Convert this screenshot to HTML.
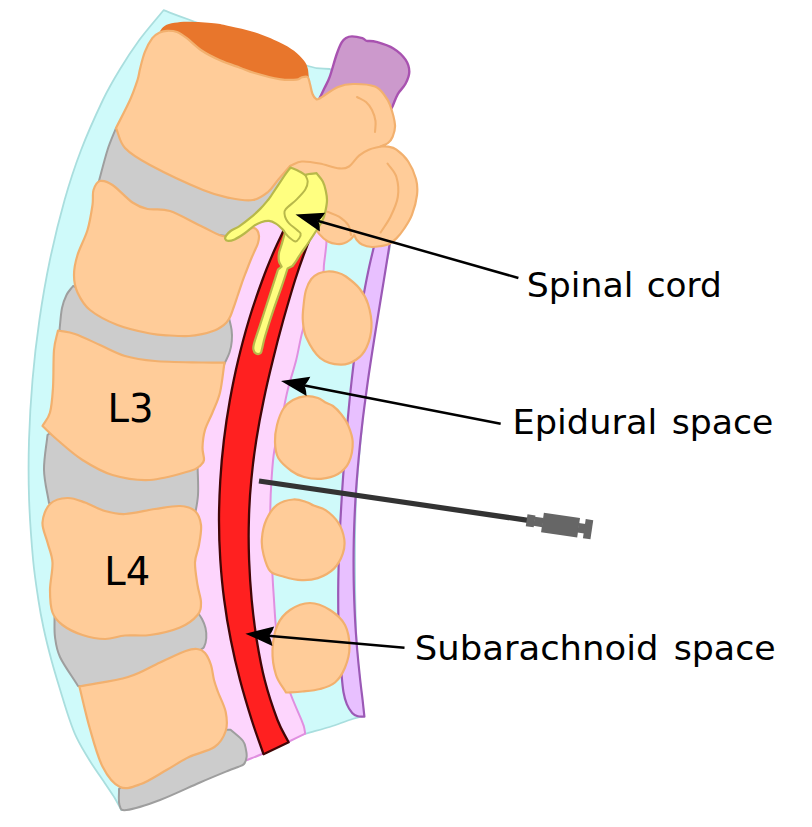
<!DOCTYPE html>
<html lang="en">
<head>
<meta charset="utf-8">
<title>Lumbar puncture diagram</title>
<style>
html,body{margin:0;padding:0;background:#fff;}
svg{display:block;}
</style>
</head>
<body>
<svg width="812" height="827" viewBox="0 0 812 827">
<rect width="812" height="827" fill="#fff"/>
<path d="M163.6,10.2C155.5,20.1 146.7,30.0 139.3,40.0C132.0,50.0 125.5,60.0 119.5,70.0C113.4,80.0 109.3,86.7 102.9,100.0C96.6,113.3 87.5,133.3 81.1,150.0C74.7,166.7 69.8,181.7 64.6,200.0C59.4,218.3 54.1,240.0 49.9,260.0C45.7,280.0 42.3,300.0 39.4,320.0C36.5,340.0 34.2,360.0 32.5,380.0C30.8,400.0 29.6,420.0 29.0,440.0C28.4,460.0 28.4,480.0 29.1,500.0C29.8,520.0 31.6,543.3 33.1,560.0C34.7,576.7 36.7,588.7 38.4,600.0C40.1,611.3 41.3,617.5 43.5,627.7C45.7,638.0 48.9,650.8 51.8,661.5C54.7,672.2 58.1,683.1 60.8,692.0C63.5,700.9 65.4,707.5 68.0,715.0C70.6,722.5 72.8,729.6 76.4,737.2C80.0,744.8 84.9,752.9 89.8,760.8C94.7,768.6 101.4,778.0 105.6,784.3C109.8,790.6 112.4,794.2 115.0,798.5C117.6,802.8 119.2,806.2 121.3,810.0C124.2,803.3 127.1,796.7 130.0,790.0C166.7,776.7 203.3,763.3 240.0,750.0C261.7,744.7 283.3,739.3 305.0,734.0C314.2,731.3 324.6,728.5 332.5,726.0C340.4,723.5 347.2,720.7 352.5,719.0C357.8,717.3 360.2,717.0 364.0,716.0C361.7,694.0 358.5,673.5 357.0,650.0C355.5,626.5 355.2,600.0 355.0,575.0C354.8,550.0 355.0,523.0 356.0,500.0C357.0,477.0 358.7,461.2 361.0,437.0C363.3,412.8 366.0,382.8 370.0,355.0C374.0,327.2 381.7,288.8 385.0,270.0C388.3,251.2 390.0,253.7 390.0,242.0C390.0,230.3 387.0,215.3 385.0,200.0C383.0,184.7 383.8,168.3 378.0,150.0C372.2,131.7 358.0,103.5 350.0,90.0C342.0,76.5 336.7,76.0 330.0,69.0C322.7,68.0 319.7,70.0 308.0,66.0C296.3,62.0 279.7,52.7 260.0,45.0C240.3,37.3 206.1,25.8 190.0,20.0C173.9,14.2 172.4,13.5 163.6,10.2Z" fill="#cffafa" stroke="#a9dede" stroke-width="1.8" stroke-linejoin="round" stroke-linecap="round"/>
<path d="M159.7,31.5C161.3,29.6 162.1,27.3 164.6,25.9C167.1,24.4 170.4,23.5 174.5,22.8C178.6,22.1 182.7,21.6 189.3,21.7C195.9,21.8 207.1,22.4 213.9,23.2C220.7,23.9 223.2,24.7 230.0,26.2C236.8,27.7 246.4,29.6 254.6,32.3C262.8,35.0 272.7,39.1 279.3,42.2C285.9,45.3 289.9,47.7 294.0,50.8C298.1,53.9 301.6,57.7 303.9,60.6C306.2,63.5 306.8,65.3 307.6,68.0C308.4,70.7 308.4,74.0 308.8,77.0C304.2,79.7 299.6,82.3 295.0,85.0C281.0,83.3 268.3,84.5 253.0,80.0C237.7,75.5 215.2,64.3 203.0,58.0C190.8,51.7 187.2,46.4 180.0,42.0C172.8,37.6 166.5,35.0 159.7,31.5Z" fill="#e8762c"/>
<path d="M319.3,98.8C321.0,95.2 322.8,91.7 324.5,88.0C326.2,84.3 327.7,82.5 329.7,76.9C331.7,71.3 334.6,60.2 336.6,54.5C338.6,48.8 340.1,45.1 341.7,42.4C343.3,39.6 344.3,39.0 346.0,38.0C347.7,37.0 349.3,36.4 352.0,36.4C354.7,36.4 359.9,37.4 362.4,38.1C364.8,38.8 364.4,40.2 366.7,40.8C369.0,41.4 371.8,40.5 376.2,41.8C380.6,43.1 388.5,45.4 393.4,48.4C398.3,51.4 402.9,55.8 405.5,59.7C408.1,63.6 409.3,67.7 409.3,71.7C409.3,75.7 407.4,80.1 405.5,83.8C403.6,87.5 399.9,90.4 397.8,94.1C395.7,97.8 394.3,102.2 392.6,106.2C388.4,114.1 384.2,122.1 380.0,130.0C366.7,126.7 353.3,123.3 340.0,120.0C333.1,112.9 326.2,105.9 319.3,98.8Z" fill="#cc99cc" stroke="#a852b0" stroke-width="2.4" stroke-linejoin="round" stroke-linecap="round"/>
<path d="M375.5,240.0C373.2,250.0 370.6,260.0 368.5,270.0C366.4,280.0 364.7,288.3 362.8,300.0C360.8,311.7 358.4,326.7 356.6,340.0C354.8,353.3 353.2,366.7 351.7,380.0C350.2,393.3 348.9,406.7 347.7,420.0C346.5,433.3 345.4,446.7 344.4,460.0C343.3,473.3 342.4,486.7 341.6,500.0C340.8,513.3 340.0,526.7 339.5,540.0C338.9,553.3 338.5,566.7 338.3,580.0C338.1,593.3 338.2,608.3 338.4,620.0C338.6,631.7 339.1,640.8 339.6,650.0C340.1,659.2 340.9,668.0 341.6,675.0C342.2,682.0 342.6,687.3 343.5,692.2C344.4,697.1 345.4,700.8 346.8,704.2C348.2,707.7 350.4,710.9 352.2,712.9C354.0,714.9 355.7,715.6 357.7,716.2C359.7,716.8 362.2,716.5 364.4,716.6C363.8,711.1 363.3,706.1 362.6,700.0C361.9,693.9 361.1,688.3 360.2,680.0C359.3,671.7 358.1,660.0 357.2,650.0C356.4,640.0 355.7,631.7 355.1,620.0C354.5,608.3 353.9,593.3 353.7,580.0C353.5,566.7 353.5,553.3 353.8,540.0C354.1,526.7 354.7,513.3 355.4,500.0C356.2,486.7 357.3,473.3 358.5,460.0C359.7,446.7 361.1,433.3 362.7,420.0C364.3,406.7 366.2,393.3 368.0,380.0C369.9,366.7 372.0,353.3 374.1,340.0C376.2,326.7 378.7,311.7 380.6,300.0C382.5,288.3 383.9,280.0 385.5,270.0C387.1,260.0 388.7,250.0 390.3,240.0C385.4,240.0 380.4,240.0 375.5,240.0Z" fill="#e8c0ff" stroke="#9b59b6" stroke-width="2.2" stroke-linejoin="round" stroke-linecap="round"/>
<path d="M322.0,215.0C323.2,220.7 324.8,227.3 325.5,232.0C326.2,236.7 326.6,237.9 326.4,243.3C326.1,248.7 324.6,259.0 324.0,264.3C323.4,269.6 324.5,269.1 322.7,275.0C320.9,280.9 316.3,290.8 313.0,300.0C309.7,309.2 305.6,320.0 302.8,330.0C300.0,340.0 298.7,350.0 296.2,360.0C293.7,370.0 290.1,380.0 287.7,390.0C285.2,400.0 283.7,410.0 281.5,420.0C279.3,430.0 276.1,440.0 274.4,450.0C272.7,460.0 272.2,470.0 271.5,480.0C270.8,490.0 270.4,500.0 270.3,510.0C270.2,520.0 270.7,530.0 271.0,540.0C271.3,550.0 271.7,560.0 272.2,570.0C272.7,580.0 273.3,590.0 274.0,600.0C274.7,610.0 275.0,620.0 276.3,630.0C277.6,640.0 279.9,650.0 282.0,660.0C284.1,670.0 285.9,680.0 289.2,690.0C292.4,700.0 299.0,713.8 301.5,720.0C304.0,726.2 303.4,724.7 304.0,727.0C304.6,729.3 304.8,731.5 305.2,733.7C299.5,736.5 295.2,738.6 288.0,742.0C280.8,745.4 268.8,751.0 262.0,754.0C255.2,757.0 252.1,758.0 247.1,760.0C231.4,753.3 215.7,746.7 200.0,740.0C183.3,693.3 166.7,646.7 150.0,600.0C150.0,556.7 150.0,513.3 150.0,470.0C160.0,423.3 170.0,376.7 180.0,330.0C203.3,301.7 226.7,273.3 250.0,245.0C250.0,235.0 250.0,225.0 250.0,215.0C258.3,210.0 266.7,205.0 275.0,200.0C290.7,205.0 306.3,210.0 322.0,215.0Z" fill="#fdd5fd" stroke="#e08fe0" stroke-width="2" stroke-linejoin="round" stroke-linecap="round"/>
<path d="M283.8,230.0C280.7,236.7 278.1,241.7 274.5,250.0C270.9,258.3 266.6,268.3 262.4,280.0C258.1,291.7 252.9,306.7 248.9,320.0C244.9,333.3 241.4,346.7 238.2,360.0C235.0,373.3 232.3,386.7 229.9,400.0C227.5,413.3 225.5,426.7 223.9,440.0C222.3,453.3 221.1,466.7 220.3,480.0C219.5,493.3 219.0,506.7 219.0,520.0C219.0,533.3 219.4,546.7 220.3,560.0C221.2,573.3 222.4,586.7 224.2,600.0C225.9,613.3 228.1,626.7 230.8,640.0C233.4,653.3 236.5,666.7 240.0,680.0C243.5,693.3 247.8,707.6 251.7,720.0C255.6,732.4 259.6,742.8 263.5,754.2C271.9,750.2 280.2,746.3 288.6,742.3C284.9,734.9 281.5,730.4 277.5,720.0C273.6,709.6 268.1,693.3 264.7,680.0C261.2,666.7 258.9,653.3 256.7,640.0C254.6,626.7 253.0,613.3 251.7,600.0C250.5,586.7 249.6,573.3 249.1,560.0C248.6,546.7 248.5,533.3 248.9,520.0C249.2,506.7 250.0,493.3 251.3,480.0C252.5,466.7 254.2,453.3 256.3,440.0C258.4,426.7 260.9,413.3 263.7,400.0C266.4,386.7 269.6,373.3 272.9,360.0C276.1,346.7 279.6,333.3 283.3,320.0C287.1,306.7 291.4,291.7 295.1,280.0C298.8,268.3 302.7,257.5 305.5,250.0C308.2,242.5 309.5,240.0 311.5,235.0C302.2,233.3 293.0,231.7 283.8,230.0Z" fill="#ff2020" stroke="#420606" stroke-width="2.3" stroke-linejoin="round" stroke-linecap="round"/>
<path d="M327.5,271.5C330.6,271.3 333.9,271.7 337.0,272.5C340.1,273.3 342.1,273.8 345.9,276.5C349.6,279.2 355.8,283.9 359.5,288.5C363.2,293.1 366.0,297.6 368.0,304.0C370.0,310.4 371.8,319.6 371.5,326.8C371.2,334.1 369.0,342.1 366.5,347.5C364.0,352.9 360.7,356.6 356.4,359.5C352.1,362.4 346.7,365.0 340.6,364.7C334.5,364.4 325.7,362.4 320.0,357.8C314.3,353.2 309.1,343.6 306.2,337.3C303.3,331.0 303.2,325.4 302.8,320.0C302.4,314.6 303.1,310.0 303.6,305.0C304.1,300.0 304.7,294.3 306.0,290.0C307.3,285.7 309.2,281.8 311.3,279.0C313.4,276.2 315.8,274.8 318.5,273.5C321.2,272.2 324.4,271.7 327.5,271.5Z" fill="#ffcc99" stroke="#f2b06e" stroke-width="2.2" stroke-linejoin="round" stroke-linecap="round"/>
<path d="M283.5,408.5C286.2,404.3 289.2,402.1 293.0,400.0C296.8,397.9 301.8,396.5 306.0,396.2C310.2,395.9 314.8,396.9 318.0,398.0C321.2,399.1 323.0,401.2 325.5,402.5C328.0,403.8 330.4,404.1 333.0,406.0C335.6,407.9 338.5,410.8 341.0,414.0C343.5,417.2 346.1,420.4 348.0,425.0C349.9,429.6 352.5,435.7 352.7,441.9C352.9,448.1 351.4,456.6 349.0,462.0C346.6,467.4 342.7,471.2 338.0,474.0C333.3,476.8 326.7,478.3 321.0,478.8C315.3,479.3 308.9,478.3 304.0,477.0C299.1,475.7 295.8,474.2 291.5,471.0C287.2,467.8 281.1,462.8 278.3,458.0C275.6,453.2 275.2,447.5 275.0,442.0C274.8,436.5 275.6,430.6 277.0,425.0C278.4,419.4 280.8,412.7 283.5,408.5Z" fill="#ffcc99" stroke="#f2b06e" stroke-width="2.2" stroke-linejoin="round" stroke-linecap="round"/>
<path d="M293.4,499.5C298.4,499.1 303.5,501.2 306.9,502.2C310.3,503.2 310.5,504.2 313.7,505.6C316.9,507.0 321.8,507.5 325.9,510.3C330.0,513.1 335.1,517.8 338.1,522.5C341.2,527.2 343.4,533.6 344.2,538.8C345.0,544.0 344.5,548.7 342.8,553.7C341.1,558.7 338.2,564.5 334.0,568.6C329.8,572.7 323.2,576.2 317.8,578.1C312.4,580.0 307.1,580.3 301.5,580.1C295.9,579.9 289.1,578.2 283.9,576.7C278.7,575.2 273.7,574.9 270.3,571.3C266.9,567.7 265.0,560.4 263.6,555.0C262.2,549.6 261.4,544.7 261.9,538.8C262.3,532.9 263.8,525.4 266.3,519.8C268.8,514.1 272.6,508.3 277.1,504.9C281.6,501.5 288.4,499.9 293.4,499.5Z" fill="#ffcc99" stroke="#f2b06e" stroke-width="2.2" stroke-linejoin="round" stroke-linecap="round"/>
<path d="M310.0,603.0C316.7,603.0 324.2,606.3 330.0,610.0C335.8,613.7 341.8,618.8 345.0,625.0C348.2,631.2 349.5,640.4 349.5,647.5C349.5,654.6 347.4,661.7 345.0,667.5C342.6,673.3 339.2,678.9 335.0,682.5C330.8,686.1 325.4,687.5 320.0,689.0C314.6,690.5 308.2,690.9 302.5,691.5C296.8,692.1 291.5,692.2 286.0,692.5C282.7,686.7 278.2,682.1 276.0,675.0C273.8,667.9 272.2,658.3 272.5,650.0C272.8,641.7 274.6,631.7 277.5,625.0C280.4,618.3 284.6,613.7 290.0,610.0C295.4,606.3 303.3,603.0 310.0,603.0Z" fill="#ffcc99" stroke="#f2b06e" stroke-width="2.2" stroke-linejoin="round" stroke-linecap="round"/>
<path d="M116.0,128.0C113.2,135.3 110.3,141.2 107.5,150.0C104.7,158.8 101.8,170.7 99.0,181.0C116.0,195.7 133.0,210.3 150.0,225.0C175.3,228.7 200.7,232.3 226.0,236.0C238.0,228.3 250.0,220.7 262.0,213.0C269.7,206.3 277.3,199.7 285.0,193.0C287.3,184.7 289.7,176.3 292.0,168.0C279.0,173.7 266.0,179.3 253.0,185.0C218.7,173.3 184.3,161.7 150.0,150.0C138.7,142.7 127.3,135.3 116.0,128.0Z" fill="#cccccc" stroke="#9e9e9e" stroke-width="2" stroke-linejoin="round" stroke-linecap="round"/>
<path d="M73.0,286.0C70.8,289.0 68.3,291.3 66.5,295.0C64.7,298.7 63.2,302.2 62.0,308.0C60.8,313.8 60.3,322.7 59.5,330.0C79.7,343.3 99.8,356.7 120.0,370.0C154.0,370.7 188.0,371.3 222.0,372.0C222.8,369.2 223.7,366.3 224.5,363.5C226.2,359.8 228.3,356.2 229.5,352.5C230.7,348.8 231.5,344.8 231.8,341.0C232.2,337.2 232.1,333.8 231.6,330.0C231.1,326.2 229.9,322.0 229.0,318.0C202.7,317.0 176.3,316.0 150.0,315.0C124.3,305.3 98.7,295.7 73.0,286.0Z" fill="#cccccc" stroke="#9e9e9e" stroke-width="2" stroke-linejoin="round" stroke-linecap="round"/>
<path d="M47.5,435.0C46.3,446.7 43.8,458.7 44.0,470.0C44.2,481.3 47.3,492.0 49.0,503.0C72.7,512.0 96.3,521.0 120.0,530.0C144.7,526.7 169.3,523.3 194.0,520.0C195.3,511.7 197.4,504.3 198.0,495.0C198.6,485.7 197.7,474.3 197.5,464.0C171.7,461.0 145.8,458.0 120.0,455.0C100.0,445.0 80.0,435.0 60.0,425.0C55.8,428.3 51.7,431.7 47.5,435.0Z" fill="#cccccc" stroke="#9e9e9e" stroke-width="2" stroke-linejoin="round" stroke-linecap="round"/>
<path d="M54.5,617.0C54.7,623.7 54.1,630.3 55.0,637.0C55.9,643.7 56.2,648.8 60.0,657.0C63.8,665.2 72.0,676.3 78.0,686.0C102.0,690.7 126.0,695.3 150.0,700.0C165.3,688.3 180.7,676.7 196.0,665.0C197.3,660.3 198.7,654.0 200.0,651.0C201.3,648.0 202.9,649.2 204.0,647.0C205.1,644.8 206.1,641.2 206.3,638.0C206.6,634.8 206.2,631.2 205.5,628.0C204.8,624.8 203.6,622.0 202.0,619.0C200.4,616.0 198.0,613.0 196.0,610.0C170.7,610.7 145.3,611.3 120.0,612.0C98.2,613.7 76.3,615.3 54.5,617.0Z" fill="#cccccc" stroke="#9e9e9e" stroke-width="2" stroke-linejoin="round" stroke-linecap="round"/>
<path d="M119.0,789.0C119.2,794.3 118.2,801.5 119.5,805.0C120.8,808.5 119.8,810.8 126.5,810.0C133.2,809.2 147.8,804.6 160.0,800.0C172.2,795.4 188.8,787.3 200.0,782.5C211.2,777.7 221.2,773.6 227.5,771.0C233.8,768.4 235.2,768.2 238.0,767.0C240.8,765.8 242.6,765.7 244.0,764.0C245.4,762.3 246.3,759.3 246.6,757.0C246.9,754.7 246.6,752.7 246.0,750.0C245.4,747.3 245.6,744.4 243.0,741.0C240.4,737.6 234.7,733.5 230.5,729.7C220.3,729.8 210.2,729.9 200.0,730.0C180.0,743.3 160.0,756.7 140.0,770.0C133.0,776.3 126.0,782.7 119.0,789.0Z" fill="#cccccc" stroke="#9e9e9e" stroke-width="2" stroke-linejoin="round" stroke-linecap="round"/>
<path d="M159.7,32.6C162.1,31.4 164.1,30.9 167.0,30.8C169.9,30.7 173.7,30.8 177.0,32.0C180.3,33.2 182.7,35.1 186.8,38.2C190.9,41.3 196.1,46.8 201.6,50.5C207.1,54.2 213.6,57.4 220.0,60.3C226.4,63.2 234.2,65.6 240.0,67.7C245.8,69.8 248.0,71.1 254.6,73.0C261.1,74.9 272.3,78.0 279.3,79.1C286.3,80.2 292.8,80.0 296.5,79.7C300.2,79.4 299.5,78.0 301.4,77.5C303.2,77.0 306.2,75.9 307.6,77.0C309.0,78.1 309.2,81.2 310.0,84.0C310.8,86.8 311.5,91.5 312.5,94.0C313.5,96.5 314.8,98.0 316.0,98.8C317.2,99.5 315.8,100.5 319.5,98.5C323.2,96.5 332.4,89.4 338.0,87.0C343.6,84.6 346.8,84.1 353.0,84.0C359.2,83.9 369.7,84.5 375.0,86.5C380.3,88.5 382.5,92.9 385.0,96.0C387.5,99.1 388.3,100.2 390.0,105.0C391.7,109.8 394.6,119.7 395.0,125.0C395.4,130.3 393.7,134.0 392.5,137.0C391.3,140.0 390.0,141.4 388.0,143.0C386.0,144.6 383.1,145.3 380.6,146.5C383.1,146.6 385.4,146.2 388.0,146.7C390.6,147.2 393.0,147.2 396.4,149.7C399.8,152.2 404.9,156.6 408.2,161.5C411.5,166.4 414.5,173.4 416.0,179.0C417.5,184.6 417.7,189.1 417.0,195.0C416.3,200.9 414.1,209.1 412.0,214.7C409.9,220.3 406.9,224.6 404.3,228.5C401.7,232.4 399.0,235.8 396.4,238.4C393.8,241.0 390.9,243.1 388.5,244.3C386.1,245.5 384.8,245.4 382.0,245.8C379.2,246.2 375.3,247.2 372.0,247.0C368.7,246.8 364.5,245.7 362.0,244.5C359.5,243.3 358.1,241.6 356.8,240.0C355.5,238.4 355.1,236.7 354.3,235.0C353.0,236.5 352.2,238.1 350.5,239.5C348.8,240.9 346.2,242.6 344.0,243.3C341.8,244.1 339.7,244.3 337.0,244.0C334.3,243.7 330.9,243.1 328.0,241.5C325.1,239.9 322.3,237.7 319.6,234.4C316.9,231.2 314.5,226.1 312.0,222.0C308.0,214.7 304.0,207.3 300.0,200.0C296.7,188.7 293.3,177.3 290.0,166.0C286.0,170.7 281.7,175.7 278.0,180.0C274.3,184.3 272.2,188.7 268.0,192.0C263.8,195.3 259.3,199.0 253.0,200.0C246.7,201.0 238.3,199.7 230.0,198.0C221.7,196.3 216.3,195.5 203.0,190.0C189.7,184.5 163.0,172.0 150.0,165.0C137.0,158.0 130.7,154.2 125.0,148.0C119.3,141.8 119.0,134.7 116.0,128.0C120.7,118.7 126.4,108.0 130.0,100.0C133.6,92.0 135.8,85.2 137.5,80.0C139.2,74.8 138.8,73.7 140.0,69.0C141.2,64.3 142.9,56.8 145.0,51.7C147.1,46.6 149.9,41.4 152.3,38.2C154.8,35.0 157.2,33.8 159.7,32.6Z" fill="#ffcc99" stroke="#f2b06e" stroke-width="2.2" stroke-linejoin="round" stroke-linecap="round"/>
<path d="M357.0,97.0C360.0,98.7 363.5,99.8 366.0,102.0C368.5,104.2 370.4,106.8 372.0,110.0C373.6,113.2 375.0,117.3 375.5,121.0C376.0,124.7 375.2,128.3 375.0,132.0" fill="none" stroke="#f2b06e" stroke-width="2.1" stroke-linejoin="round" stroke-linecap="round"/>
<path d="M380.6,146.5C376.7,147.6 372.4,148.2 368.8,149.7C365.2,151.2 362.3,152.8 359.0,155.6C355.7,158.4 352.3,164.4 349.0,166.5C345.7,168.6 344.2,168.9 339.3,168.4C334.4,167.9 325.9,164.7 319.6,163.5C313.4,162.3 306.7,161.1 301.8,161.5C296.9,161.9 293.9,164.5 290.0,166.0" fill="none" stroke="#f2b06e" stroke-width="2.1" stroke-linejoin="round" stroke-linecap="round"/>
<path d="M387.5,163.5C390.5,168.0 394.7,171.4 396.4,177.0C398.1,182.6 398.8,190.4 397.8,197.0C396.8,203.6 393.4,210.8 390.5,216.7C387.6,222.6 383.9,227.2 380.6,232.5" fill="none" stroke="#f2b06e" stroke-width="2.1" stroke-linejoin="round" stroke-linecap="round"/>
<path d="M327.4,211.8C331.3,213.4 335.5,214.4 339.0,216.7C342.5,219.0 346.5,222.4 348.5,225.5C350.5,228.6 350.2,231.8 351.0,235.0" fill="none" stroke="#f2b06e" stroke-width="2.1" stroke-linejoin="round" stroke-linecap="round"/>
<path d="M100.0,181.0C103.2,180.2 107.1,181.4 112.5,185.0C117.9,188.6 126.7,198.5 132.5,202.5C138.3,206.5 141.2,207.6 147.5,209.0C153.8,210.4 160.8,208.0 170.0,211.0C179.2,214.0 193.8,222.8 203.0,227.0C212.2,231.2 218.0,235.8 225.0,236.5C232.0,237.2 240.3,232.4 245.0,231.0C249.7,229.6 250.9,227.9 253.0,227.8C255.1,227.7 256.3,229.1 257.3,230.5C258.3,231.9 258.9,233.9 259.0,236.0C259.1,238.1 258.6,240.8 258.0,243.0C257.4,245.2 256.6,246.4 255.5,249.0C254.4,251.6 252.8,254.9 251.2,258.7C249.6,262.5 247.6,267.8 246.0,272.0C244.4,276.2 243.0,279.8 241.6,283.8C240.2,287.8 238.8,292.1 237.5,296.0C236.2,299.9 235.0,303.7 233.8,307.0C232.6,310.3 231.7,313.4 230.5,316.0C229.3,318.6 228.1,320.7 226.5,322.5C224.9,324.3 223.0,325.7 221.0,327.0C219.0,328.3 217.7,329.3 214.5,330.5C211.3,331.7 206.2,333.3 202.0,334.2C197.8,335.1 194.3,335.8 189.0,336.0C183.7,336.2 176.5,335.9 170.0,335.5C163.5,335.1 158.8,335.2 150.0,333.5C141.2,331.8 127.5,328.9 117.5,325.0C107.5,321.1 96.7,315.4 90.0,310.0C83.3,304.6 80.2,298.3 77.5,292.5C74.8,286.7 74.0,281.2 74.0,275.0C74.0,268.8 75.2,262.5 77.5,255.0C79.8,247.5 85.0,238.3 87.5,230.0C90.0,221.7 91.5,211.7 92.5,205.0C93.5,198.3 92.2,194.0 93.5,190.0C94.8,186.0 96.8,181.8 100.0,181.0Z" fill="#ffcc99" stroke="#f2b06e" stroke-width="2.2" stroke-linejoin="round" stroke-linecap="round"/>
<path d="M58.0,330.5C63.7,331.7 68.0,331.6 75.0,334.0C82.0,336.4 91.7,341.3 100.0,345.0C108.3,348.7 115.8,353.3 125.0,356.0C134.2,358.7 142.0,359.9 155.0,361.0C168.0,362.1 191.4,362.2 203.0,362.5C214.6,362.8 217.3,362.5 224.5,362.5C223.0,372.5 222.0,384.2 220.0,392.5C218.0,400.8 215.0,406.2 212.5,412.5C210.0,418.8 206.7,424.2 205.0,430.0C203.3,435.8 202.7,442.5 202.5,447.5C202.3,452.5 204.4,456.9 204.0,460.0C203.6,463.1 201.3,464.0 200.0,466.0C196.7,467.7 198.3,468.7 190.0,471.0C181.7,473.3 162.9,479.3 150.0,480.0C137.1,480.7 123.8,478.3 112.5,475.0C101.2,471.7 91.7,465.8 82.5,460.0C73.3,454.2 64.2,445.7 57.5,440.0C50.8,434.3 47.5,430.7 42.5,426.0C45.0,421.5 48.2,418.9 50.0,412.5C51.8,406.1 52.3,397.9 53.0,387.5C53.7,377.1 53.2,359.5 54.0,350.0C54.8,340.5 56.7,337.0 58.0,330.5Z" fill="#ffcc99" stroke="#f2b06e" stroke-width="2.2" stroke-linejoin="round" stroke-linecap="round"/>
<path d="M42.5,522.5C42.9,516.1 45.8,508.1 50.0,504.0C54.2,499.9 61.7,498.2 67.5,498.0C73.3,497.8 78.8,500.3 85.0,502.5C91.2,504.7 98.3,509.1 105.0,511.0C111.7,512.9 116.7,514.3 125.0,514.0C133.3,513.7 145.8,510.3 155.0,509.0C164.2,507.7 173.3,505.7 180.0,506.0C186.7,506.3 191.5,507.8 195.0,511.0C198.5,514.2 200.3,519.3 201.0,525.0C201.7,530.7 200.0,538.8 199.0,545.0C198.0,551.2 195.2,555.8 195.0,562.5C194.8,569.2 196.5,578.3 197.5,585.0C198.5,591.7 201.0,597.5 201.0,602.5C201.0,607.5 201.0,610.8 197.5,615.0C194.0,619.2 187.9,624.2 180.0,627.5C172.1,630.8 159.2,633.7 150.0,635.0C140.8,636.3 132.5,634.8 125.0,635.5C117.5,636.2 112.1,639.1 105.0,639.0C97.9,638.9 89.6,637.3 82.5,635.0C75.4,632.7 67.5,628.8 62.5,625.0C57.5,621.2 54.6,618.3 52.5,612.5C50.4,606.7 50.0,598.3 50.0,590.0C50.0,581.7 52.9,570.4 52.5,562.5C52.1,554.6 49.2,549.2 47.5,542.5C45.8,535.8 42.1,528.9 42.5,522.5Z" fill="#ffcc99" stroke="#f2b06e" stroke-width="2.2" stroke-linejoin="round" stroke-linecap="round"/>
<path d="M79.4,686.5C95.6,683.3 114.6,681.0 128.0,677.0C141.4,673.0 150.4,666.7 160.0,662.4C169.6,658.1 179.5,653.2 185.7,651.0C191.9,648.8 193.8,648.7 197.0,649.0C200.2,649.3 202.7,650.3 205.0,653.0C207.3,655.7 209.5,660.5 211.0,665.0C212.5,669.5 212.8,675.5 214.0,680.0C215.2,684.5 216.1,686.7 218.0,692.0C219.9,697.3 224.4,705.5 225.7,712.0C227.0,718.5 227.6,725.2 225.7,731.0C223.8,736.8 220.6,742.7 214.5,747.0C208.4,751.3 197.0,753.2 189.0,757.0C181.0,760.8 174.5,765.5 166.5,770.0C158.5,774.5 148.8,781.2 141.0,784.0C133.2,786.8 126.4,789.9 120.0,787.0C113.6,784.1 107.5,776.3 102.5,766.5C97.5,756.7 93.5,741.3 89.7,728.0C85.9,714.7 82.8,700.3 79.4,686.5Z" fill="#ffcc99" stroke="#f2b06e" stroke-width="2.2" stroke-linejoin="round" stroke-linecap="round"/>
<path d="M290.5,167.5C293.3,168.7 296.5,169.9 299.0,171.2C301.5,172.4 303.2,173.7 305.3,175.0C306.5,174.7 307.1,174.3 309.0,174.0C310.9,173.7 314.0,173.5 316.5,173.2C318.6,176.0 321.2,178.5 322.8,181.5C324.4,184.5 325.1,187.8 325.8,191.0C326.5,194.2 327.1,197.2 327.0,200.6C326.9,204.0 326.0,208.5 325.3,211.7C324.6,214.9 323.9,217.3 322.7,220.0C321.5,222.7 320.4,224.2 318.0,228.0C315.6,231.8 311.1,238.7 308.2,243.0C305.3,247.3 302.5,251.0 300.5,254.0C298.5,257.0 297.5,258.8 296.2,260.8C294.9,262.8 293.7,264.3 292.5,266.0C290.9,266.8 289.2,267.7 287.6,268.5C285.6,274.6 283.9,280.2 281.6,286.8C279.3,293.4 276.8,300.1 274.0,308.4C271.2,316.6 267.1,329.5 265.1,336.3C263.1,343.1 262.8,346.2 262.0,349.0C261.2,351.8 261.5,352.4 260.5,353.2C259.5,353.9 257.2,354.1 256.0,353.5C254.8,352.9 253.8,351.4 253.5,349.8C253.2,348.2 252.9,347.8 253.9,343.9C254.9,340.0 257.1,334.0 259.7,326.2C262.2,318.4 266.1,306.3 269.2,296.9C272.2,287.4 275.1,278.6 278.0,269.5C279.2,268.5 280.4,267.6 281.6,266.6C280.7,264.7 279.3,263.3 278.9,261.0C278.5,258.7 278.6,255.5 279.0,253.0C279.4,250.5 280.2,249.2 281.2,245.8C282.2,242.4 283.7,237.1 285.0,232.8C284.3,231.7 284.3,231.1 282.8,229.6C281.3,228.1 278.2,225.0 275.9,223.6C273.6,222.2 271.4,221.1 269.0,220.9C266.6,220.7 263.6,221.4 261.2,222.2C258.8,223.0 257.1,223.7 254.3,225.6C251.5,227.5 247.7,231.2 244.4,233.5C241.1,235.8 237.3,238.2 234.6,239.4C231.9,240.6 229.8,241.0 228.2,240.9C226.6,240.8 225.5,239.8 225.2,238.9C224.9,238.0 225.3,236.8 226.2,235.5C227.1,234.2 228.4,232.6 230.6,231.0C232.8,229.4 236.4,228.2 239.5,226.1C242.6,224.0 245.9,221.6 249.3,218.7C252.8,215.8 257.1,212.0 260.2,208.9C263.3,205.8 266.1,202.3 268.0,200.0C269.9,197.7 269.0,198.9 271.6,195.0C274.2,191.1 280.8,181.1 283.9,176.5C287.0,171.9 288.3,170.5 290.5,167.5Z" fill="#ffff80" stroke="#b8b84a" stroke-width="2.2" stroke-linejoin="round" stroke-linecap="round"/>
<path d="M305.3,175.0C306.1,177.2 307.7,179.1 307.7,181.5C307.7,183.9 307.1,186.6 305.3,189.6C303.5,192.6 300.0,196.1 296.7,199.4C293.4,202.7 287.6,206.8 285.6,209.3C283.6,211.8 284.5,212.6 284.6,214.2C284.7,215.8 285.2,217.4 286.0,219.0C286.8,220.6 287.5,221.8 289.3,223.6C291.1,225.4 294.8,228.1 296.7,229.8C298.6,231.5 300.2,232.2 300.6,233.6C301.0,235.0 300.1,236.9 299.2,238.2C298.3,239.5 297.0,241.6 295.4,241.5C293.8,241.4 291.0,238.9 289.3,237.5C287.6,236.1 286.4,234.4 285.0,232.8" fill="none" stroke="#b8b84a" stroke-width="2" stroke-linejoin="round" stroke-linecap="round"/>
<g transform="translate(259,481) rotate(8.33)"><rect x="0" y="-2.6" width="272" height="5.2" fill="#333"/><rect x="270.5" y="-6" width="8" height="12" fill="#666"/><rect x="278" y="-4.6" width="9" height="9.2" fill="#666"/><rect x="286.5" y="-9.8" width="36.5" height="19.6" fill="#666"/><rect x="322.5" y="-4.8" width="7" height="9.6" fill="#666"/><rect x="328.8" y="-9.7" width="7.6" height="19.4" fill="#666"/></g>
<line x1="317.3" y1="220.7" x2="518.4" y2="278" stroke="#000" stroke-width="2.5"/><path d="M295.5,214.5 L319.8,231.5 Q319.9,221.4 317.3,220.7 Q319.9,221.4 325.1,212.8 Z" fill="#000"/>
<line x1="303.3" y1="385.3" x2="500.7" y2="423.7" stroke="#000" stroke-width="2.5"/><path d="M281.0,381.0 L306.6,395.9 Q305.9,385.8 303.3,385.3 Q305.9,385.8 310.3,376.8 Z" fill="#000"/>
<line x1="268.0" y1="635.7" x2="404.5" y2="647.8" stroke="#000" stroke-width="2.5"/><path d="M245.4,633.7 L272.4,645.9 Q270.6,635.9 268.0,635.7 Q270.6,635.9 274.2,626.5 Z" fill="#000"/>
<text x="107.6" y="422.3" font-size="38.6" font-family="'DejaVu Sans', 'Liberation Sans', sans-serif" fill="#000">L3</text>
<text x="104.2" y="584.5" font-size="38.5" font-family="'DejaVu Sans', 'Liberation Sans', sans-serif" fill="#000">L4</text>
<text y="297.4" font-size="33.2" font-family="'DejaVu Sans', 'Liberation Sans', sans-serif" fill="#000"><tspan x="526.8" textLength="106.5" lengthAdjust="spacingAndGlyphs">Spinal</tspan> <tspan x="646.7" textLength="75.2" lengthAdjust="spacingAndGlyphs">cord</tspan></text>
<text y="434.2" font-size="33.2" font-family="'DejaVu Sans', 'Liberation Sans', sans-serif" fill="#000"><tspan x="512.5" textLength="144.8" lengthAdjust="spacingAndGlyphs">Epidural</tspan> <tspan x="671.7" textLength="101.6" lengthAdjust="spacingAndGlyphs">space</tspan></text>
<text y="660.2" font-size="33.2" font-family="'DejaVu Sans', 'Liberation Sans', sans-serif" fill="#000"><tspan x="414.8" textLength="243.7" lengthAdjust="spacingAndGlyphs">Subarachnoid</tspan> <tspan x="673.7" textLength="102.0" lengthAdjust="spacingAndGlyphs">space</tspan></text>
</svg>
</body>
</html>
